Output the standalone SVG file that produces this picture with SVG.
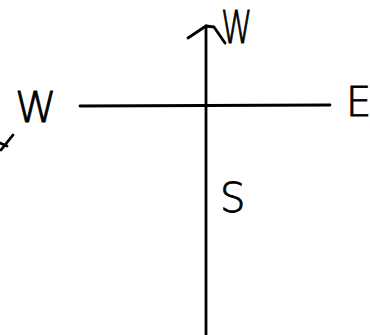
<svg xmlns="http://www.w3.org/2000/svg" width="370" height="335" viewBox="0 0 370 335">
<style>
.ln{stroke:#000;stroke-width:2.8;fill:none;stroke-linecap:round;stroke-linejoin:round}
.t{font-family:"DejaVu Sans","Liberation Sans",sans-serif;font-weight:200;fill:#000;stroke:#000;stroke-width:0.9}
</style>
<rect width="370" height="335" fill="#fff"/>
<g id="axes">
<path class="ln" d="M206,26 L206,335"/>
<path class="ln" d="M80,106 L330,105"/>
<path class="ln" d="M188,38 L206,26 L214,27 L225,43"/>
<path class="ln" d="M1,150 L13,135 M0,143 L7,146"/>
</g>
<g id="labels">
<text class="t" font-size="44" transform="translate(221,43) scale(0.72,1)">W</text>
<text class="t" x="15" y="122" font-size="42">W</text>
<text class="t" x="346" y="116" font-size="40">E</text>
<text class="t" x="220" y="212" font-size="40">S</text>
</g>
</svg>
